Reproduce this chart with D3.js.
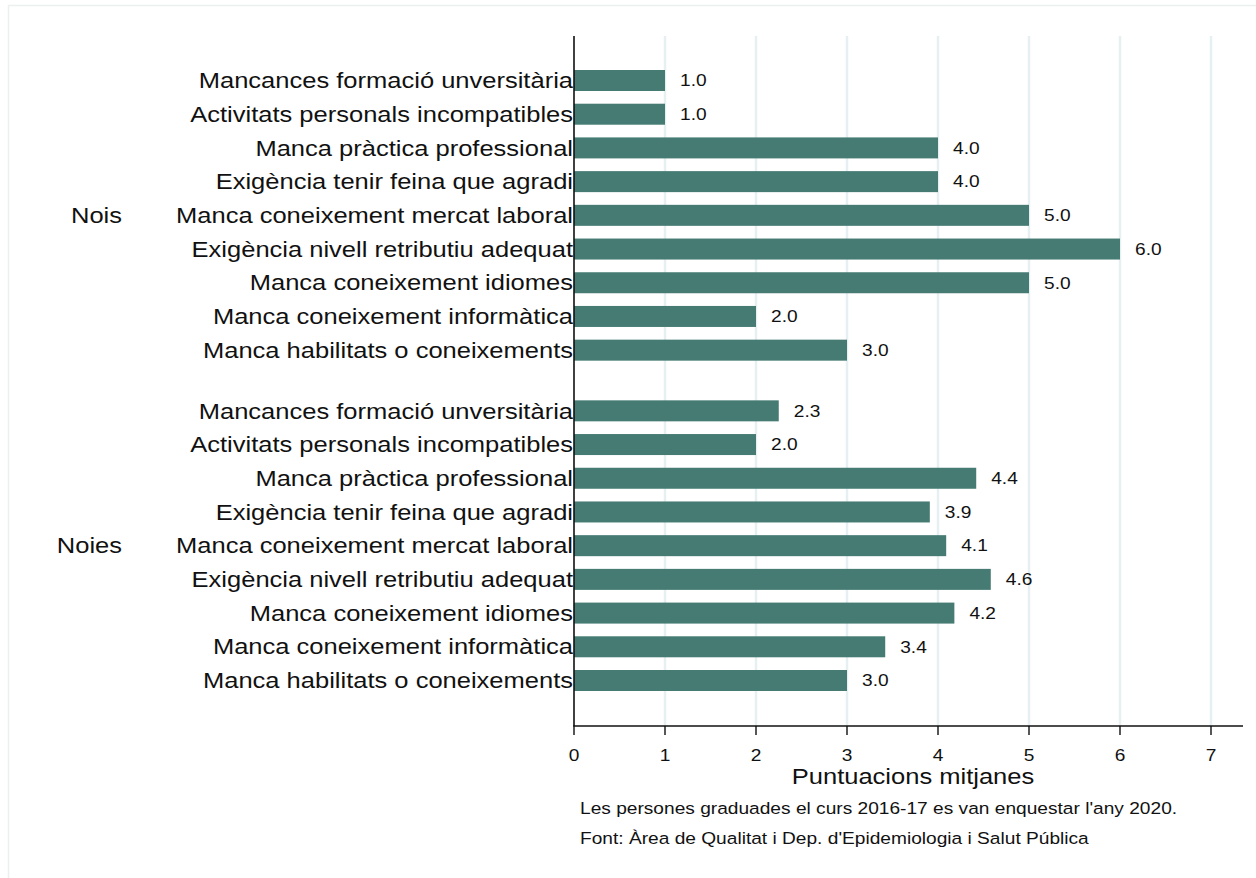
<!DOCTYPE html>
<html>
<head>
<meta charset="utf-8">
<script src="https://cdn.jsdelivr.net/npm/d3@7"></script>
<style>
  html, body { margin: 0; padding: 0; background: #fff; }
  svg { display: block; font-family: "Liberation Sans", Arial, sans-serif; }
</style>
</head>
<body>
<svg id="chart" width="1256" height="878"></svg>
<script>
// ---- data ----
const groups = ["Nois", "Noies"];
const categories = [
  "Mancances formació unversitària",
  "Activitats personals incompatibles",
  "Manca pràctica professional",
  "Exigència tenir feina que agradi",
  "Manca coneixement mercat laboral",
  "Exigència nivell retributiu adequat",
  "Manca coneixement idiomes",
  "Manca coneixement informàtica",
  "Manca habilitats o coneixements"
];
const valuesNois  = [1.0, 1.0, 4.0, 4.0, 5.0, 6.0, 5.0, 2.0, 3.0];
const valuesNoies = [2.25, 2.0, 4.42, 3.91, 4.09, 4.58, 4.18, 3.42, 3.0];
const xTicks = [0, 1, 2, 3, 4, 5, 6, 7];
const xTitle = "Puntuacions mitjanes";
const notes = [
  "Les persones graduades el curs 2016-17 es van enquestar l'any 2020.",
  "Font: Àrea de Qualitat i Dep. d'Epidemiologia i Salut Pública"
];

// ---- layout ----
const svg = d3.select("#chart");
const SX = 1.16; // horizontal text stretch
const barColor = "#457b73";
const plotLeft = 574, plotRight = 1211, plotTop = 36, plotBottom = 726, axisRight = 1243;
const groupGap = 0.8;

const x = d3.scaleLinear().domain([0, 7]).range([plotLeft, plotRight]);

const rows = [];
[valuesNois, valuesNoies].forEach((vals, gi) => {
  vals.forEach((v, i) => {
    rows.push({ group: groups[gi], gi, cat: categories[i], value: v, pos: gi * (categories.length + groupGap) + i });
  });
});
const maxPos = d3.max(rows, d => d.pos);
const y = d3.scaleLinear().domain([0, maxPos]).range([80.5, 680.5]);
const barH = 21;

function stext(g, tx, ty, str, size, anchor) {
  return g.append("text")
    .attr("transform", `translate(${tx},${ty}) scale(${SX},1)`)
    .attr("text-anchor", anchor || "start")
    .attr("dy", "0.35em")
    .attr("font-size", size)
    .attr("fill", "#111")
    .text(str);
}

// outer border
svg.append("rect").attr("x", 8.5).attr("y", 5.5).attr("width", 1300).attr("height", 1000)
  .attr("fill", "none").attr("stroke", "#eaf0f0").attr("stroke-width", 1.5);

// grid
svg.append("g").selectAll("line").data(xTicks.filter(t => t > 0)).join("line")
  .attr("x1", d => x(d)).attr("x2", d => x(d))
  .attr("y1", plotTop).attr("y2", plotBottom)
  .attr("stroke", "#e6eff1").attr("stroke-width", 2.4);

// bars
svg.append("g").selectAll("rect").data(rows).join("rect")
  .attr("x", x(0)).attr("y", d => y(d.pos) - barH / 2)
  .attr("width", d => x(d.value) - x(0)).attr("height", barH)
  .attr("fill", barColor);

// value labels
const vl = svg.append("g");
rows.forEach(d => stext(vl, x(d.value) + 15, y(d.pos), d3.format(".1f")(d.value), 16.5));

// category labels
const cl = svg.append("g");
rows.forEach(d => stext(cl, plotLeft - 1, y(d.pos), d.cat, 22, "end"));

// group labels
const gl = svg.append("g");
groups.forEach((g, gi) => {
  const mid = gi * (categories.length + groupGap) + (categories.length - 1) / 2;
  stext(gl, 122, y(mid), g, 22, "end");
});

// axes lines
svg.append("line").attr("x1", plotLeft).attr("x2", plotLeft).attr("y1", plotTop).attr("y2", plotBottom)
  .attr("stroke", "#111").attr("stroke-width", 1.6);
svg.append("line").attr("x1", plotLeft - 0.8).attr("x2", axisRight).attr("y1", plotBottom).attr("y2", plotBottom)
  .attr("stroke", "#111").attr("stroke-width", 1.6);

// x ticks
const xa = svg.append("g");
xa.selectAll("line").data(xTicks).join("line")
  .attr("x1", d => x(d)).attr("x2", d => x(d))
  .attr("y1", plotBottom).attr("y2", plotBottom + 9)
  .attr("stroke", "#111").attr("stroke-width", 1.4);
xTicks.forEach(t => stext(xa, x(t), 755, String(t), 16.5, "middle"));

// axis title
stext(svg.append("g"), 913, 776, xTitle, 22, "middle");

// notes
const nl = svg.append("g");
notes.forEach((n, i) => stext(nl, 580, 808 + i * 30, n, 16.5, "start"));
</script>
</body>
</html>
